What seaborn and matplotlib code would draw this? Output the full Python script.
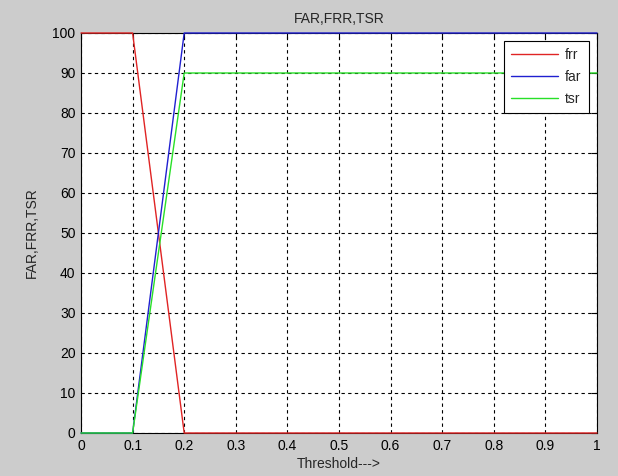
import numpy as np
import pandas as pd
import matplotlib
matplotlib.use("Agg")
import matplotlib.pyplot as plt
import seaborn as sns

threshold = [0.0, 0.1, 0.2, 0.3, 0.4, 0.5, 0.6, 0.7, 0.8, 0.9, 1.0]
frr = [100, 100, 0, 0, 0, 0, 0, 0, 0, 0, 0]
far = [0, 0, 100, 100, 100, 100, 100, 100, 100, 100, 100]
tsr = [0, 0, 90, 90, 90, 90, 90, 90, 90, 90, 90]

series_names = ['frr', 'far', 'tsr']
series_colors = {'frr': '#e02424', 'far': '#2020d0', 'tsr': '#28e028'}

df = pd.DataFrame({'threshold': threshold, 'frr': frr, 'far': far, 'tsr': tsr})
df_long = df.melt(id_vars='threshold', value_vars=series_names,
                  var_name='series', value_name='value')

sns.set_style('white')
plt.rcParams['font.family'] = ['Liberation Sans', 'DejaVu Sans']
plt.rcParams['font.size'] = 9.5

fig = plt.figure(figsize=(6.18, 4.76), dpi=100, facecolor='#cccccc')
# axes box: x 81..597, y 33..433 px
ax = fig.add_axes([81 / 618, 1 - 433 / 476, 516 / 618, 400 / 476])
ax.set_facecolor('white')

sns.lineplot(data=df_long, x='threshold', y='value', hue='series',
             hue_order=series_names, palette=series_colors,
             linewidth=1.0, ax=ax, legend=True)
for ln in ax.get_lines():
    ln.set_clip_on(False)
    ln.set_zorder(3)

ax.set_xlim(0, 1)
ax.set_ylim(0, 100)
ax.set_xticks(np.arange(0, 1.01, 0.1))
ax.set_xticklabels(['0', '0.1', '0.2', '0.3', '0.4', '0.5', '0.6', '0.7', '0.8', '0.9', '1'])
ax.set_yticks(np.arange(0, 101, 10))
ax.tick_params(direction='in', top=True, right=True, length=4, width=0.8,
               labelsize=10, colors='black')
ax.tick_params(axis='x', pad=4.5)
ax.tick_params(axis='y', pad=4)
ax.grid(True, linestyle=(0, (3, 3)), color='black', linewidth=0.8)
for s in ax.spines.values():
    s.set_color('black')
    s.set_linewidth(0.8)
    s.set_zorder(2.5)

ax.set_title('FAR,FRR,TSR', fontsize=10, pad=7)
ax.set_xlabel('Threshold--->', fontsize=10, labelpad=2.5)
ax.set_ylabel('FAR,FRR,TSR', fontsize=10, labelpad=10)

leg = ax.legend(loc='upper right', fancybox=False, framealpha=1,
                edgecolor='black', fontsize=10, handlelength=3.4,
                borderaxespad=0.6, labelspacing=0.55, borderpad=0.5,
                handletextpad=0.5)
leg.get_frame().set_linewidth(0.8)
leg.set_zorder(5)

fig.savefig('out.png', dpi=100, facecolor=fig.get_facecolor())
